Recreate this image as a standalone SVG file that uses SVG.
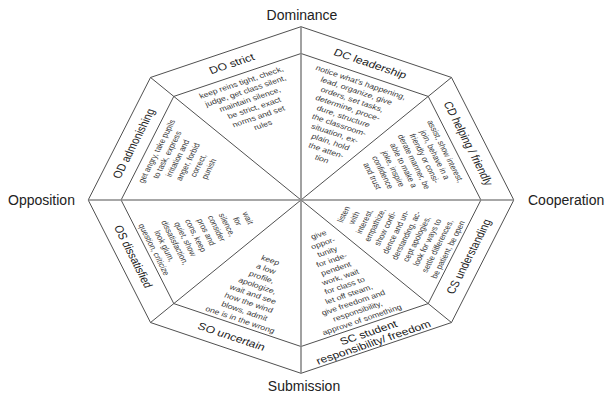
<svg xmlns="http://www.w3.org/2000/svg" width="610" height="395" viewBox="0 0 610 395">
<defs>
<style>
.bg{fill:#ffffff}
.edge{fill:none;stroke:#505050;stroke-width:1;vector-effect:non-scaling-stroke;stroke-linejoin:miter}
.axis{fill:none;stroke:#8a8a8a;stroke-width:1.6;vector-effect:non-scaling-stroke}
.diag{fill:none;stroke:#505050;stroke-width:1;vector-effect:non-scaling-stroke}
.dir{font-family:"Liberation Sans",Arial,sans-serif;font-size:14px;fill:#222}
.band{font-family:"Liberation Sans",Arial,sans-serif;font-size:10px;fill:#222;text-anchor:middle}
.t{font-family:"Liberation Sans",Arial,sans-serif;font-size:7.2px;fill:#3a3a3a;text-anchor:middle}
</style>
</defs>
<rect class="bg" x="0" y="0" width="610" height="395"/>
<g id="diagram" transform="translate(301 200) scale(1.228 1)">
  <g id="connectors">
    <polygon class="edge" points="0,-173.3 122.54,-122.54 173.3,0 122.54,122.54 0,173.3 -122.54,122.54 -173.3,0 -122.54,-122.54"/>
    <polygon class="edge" points="0,-146.5 103.59,-103.59 146.5,0 103.59,103.59 0,146.5 -103.59,103.59 -146.5,0 -103.59,-103.59"/>
    <line class="diag" x1="-122.54" y1="-122.54" x2="122.54" y2="122.54"/>
    <line class="diag" x1="122.54" y1="-122.54" x2="-122.54" y2="122.54"/>
    <line class="axis" x1="0" y1="-173.3" x2="0" y2="173.3"/>
    <line class="axis" x1="-173.3" y1="0" x2="173.3" y2="0"/>
  </g>
  <g id="DO" transform="rotate(-22.5)">
    <text class="band" x="0" y="-144.1">DO strict</text>
    <text class="t"><tspan x="0" y="-124.8">keep reins tight, check,</tspan><tspan x="0" y="-115.6">judge, get class silent,</tspan><tspan x="0" y="-106.4">maintain silence,</tspan><tspan x="0" y="-97.2">be strict, exact</tspan><tspan x="0" y="-88">norms and set</tspan><tspan x="0" y="-78.8">rules</tspan></text>
  </g>
  <g id="DC" transform="rotate(22.5)">
    <text class="band" x="0" y="-144.1">DC leadership</text>
    <text class="t"><tspan x="0" y="-124.8">notice what's happening,</tspan><tspan x="0" y="-115.6">lead, organize, give</tspan><tspan x="0" y="-106.4">orders, set tasks,</tspan><tspan x="0" y="-97.2">determine, proce-</tspan><tspan x="0" y="-88">dure, structure</tspan><tspan x="0" y="-78.8">the classroom-</tspan><tspan x="0" y="-69.6">situation, ex-</tspan><tspan x="0" y="-60.4">plain, hold</tspan><tspan x="0" y="-51.2">the atten-</tspan><tspan x="0" y="-42">tion</tspan></text>
  </g>
  <g id="CD" transform="rotate(67.5)">
    <text class="band" x="0" y="-144.1">CD helping / friendly</text>
    <text class="t"><tspan x="0" y="-124.8">assist, show interest,</tspan><tspan x="0" y="-115.6">join, behave in a</tspan><tspan x="0" y="-106.4">friendly or consi-</tspan><tspan x="0" y="-97.2">derate manner, be</tspan><tspan x="0" y="-88">able to make a</tspan><tspan x="0" y="-78.8">joke, inspire</tspan><tspan x="0" y="-69.6">confidence</tspan><tspan x="0" y="-60.4">and trust</tspan></text>
  </g>
  <g id="CS" transform="rotate(-67.5)">
    <text class="band" x="0" y="151.3">CS understanding</text>
    <text class="t"><tspan x="0" y="40">listen</tspan><tspan x="0" y="49.2">with</tspan><tspan x="0" y="58.4">interest,</tspan><tspan x="0" y="67.6">empathize,</tspan><tspan x="0" y="76.8">show confi-</tspan><tspan x="0" y="86">dence and un-</tspan><tspan x="0" y="95.2">derstanding, ac-</tspan><tspan x="0" y="104.4">cept apologies,</tspan><tspan x="0" y="113.6">look for ways to</tspan><tspan x="0" y="122.8">settle differences,</tspan><tspan x="0" y="132">be patient, be open</tspan></text>
  </g>
  <g id="SC" transform="rotate(-22.5)">
    <text class="band"><tspan x="0" y="147">SC student</tspan><tspan x="0" y="157.5">responsibility/ freedom</tspan></text>
    <text class="t"><tspan x="0" y="40">give</tspan><tspan x="0" y="49.2">oppor-</tspan><tspan x="0" y="58.4">tunity</tspan><tspan x="0" y="67.6">for inde-</tspan><tspan x="0" y="76.8">pendent</tspan><tspan x="0" y="86">work, wait</tspan><tspan x="0" y="95.2">for class to</tspan><tspan x="0" y="104.4">let off steam,</tspan><tspan x="0" y="113.6">give freedom and</tspan><tspan x="0" y="122.8">responsibility,</tspan><tspan x="0" y="132">approve of something</tspan></text>
  </g>
  <g id="SO" transform="rotate(22.5)">
    <text class="band" x="0" y="151.3">SO uncertain</text>
    <text class="t"><tspan x="0" y="67.6">keep</tspan><tspan x="0" y="76.8">a low</tspan><tspan x="0" y="86">profile,</tspan><tspan x="0" y="95.2">apologize,</tspan><tspan x="0" y="104.4">wait and see</tspan><tspan x="0" y="113.6">how the wind</tspan><tspan x="0" y="122.8">blows, admit</tspan><tspan x="0" y="132">one is in the wrong</tspan></text>
  </g>
  <g id="OS" transform="rotate(67.5)">
    <text class="band" x="0" y="151.3">OS dissatisfied</text>
    <text class="t"><tspan x="0" y="49.2">wait</tspan><tspan x="0" y="58.4">for</tspan><tspan x="0" y="67.6">silence,</tspan><tspan x="0" y="76.8">consider</tspan><tspan x="0" y="86">pros and</tspan><tspan x="0" y="95.2">cons, keep</tspan><tspan x="0" y="104.4">quiet, show</tspan><tspan x="0" y="113.6">dissatisfaction,</tspan><tspan x="0" y="122.8">look glum,</tspan><tspan x="0" y="132">question, criticize</tspan></text>
  </g>
  <g id="OD" transform="rotate(-67.5)">
    <text class="band" x="0" y="-144.1">OD admonishing</text>
    <text class="t"><tspan x="0" y="-124.8">get angry, take pupils</tspan><tspan x="0" y="-115.6">to task, express</tspan><tspan x="0" y="-106.4">irritation and</tspan><tspan x="0" y="-97.2">anger, forbid</tspan><tspan x="0" y="-88">correct,</tspan><tspan x="0" y="-78.8">punish</tspan></text>
  </g>
</g>
<g id="axes-labels">
  <text id="dominance" class="dir" x="302" y="20" text-anchor="middle">Dominance</text>
  <text id="cooperation" class="dir" x="528" y="205">Cooperation</text>
  <text id="submission" class="dir" x="304" y="391" text-anchor="middle">Submission</text>
  <text id="opposition" class="dir" x="8" y="205">Opposition</text>
</g>
</svg>
